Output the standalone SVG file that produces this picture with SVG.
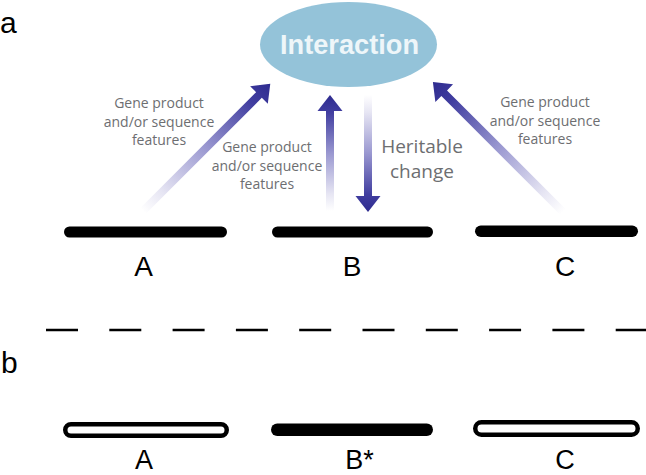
<svg xmlns="http://www.w3.org/2000/svg" width="646" height="475" viewBox="0 0 646 475">
  <defs>
    <linearGradient id="fade" x1="0" y1="0" x2="1" y2="0">
      <stop offset="0" stop-color="#ffffff"/>
      <stop offset="0.15" stop-color="#e6e5f3"/>
      <stop offset="0.5" stop-color="#9997d0"/>
      <stop offset="0.85" stop-color="#413ea0"/>
      <stop offset="1" stop-color="#2e2b8f"/>
    </linearGradient>
  </defs>
  <style>
    .panel { font-family: "Liberation Sans", Arial, sans-serif; font-size: 30px; fill: #000; }
    .gene { font-family: "Liberation Sans", Arial, sans-serif; font-size: 28px; fill: #000; text-anchor: middle; }
    .gene2 { font-family: "Liberation Sans", Arial, sans-serif; font-size: 27px; fill: #000; text-anchor: middle; }
    .note { font-family: "Open Sans", "Noto Sans", sans-serif; font-size: 14px; fill: #6d6e71; text-anchor: middle; }
    .herit { font-family: "Open Sans", "Noto Sans", sans-serif; font-size: 19px; fill: #6d6e71; text-anchor: middle; }
    .solid { fill: #000; }
    .hollow { fill: #fff; stroke: #000; stroke-width: 4.5; }
    .arrow { fill: url(#fade); }
  </style>
  <rect width="646" height="475" fill="#fff"/>

  <text class="panel" x="0" y="33">a</text>
  <text class="panel" x="1" y="373">b</text>

  <g id="interaction">
    <ellipse cx="348.5" cy="44.5" rx="88.5" ry="42.5" fill="#94c3d9"/>
    <text x="349.5" y="53.5" font-family="'Liberation Sans', Arial, sans-serif" font-weight="bold" font-size="28" fill="#eef6f9" text-anchor="middle" textLength="139" lengthAdjust="spacingAndGlyphs">Interaction</text>
  </g>

  <g id="connectors">
    <path class="arrow" transform="translate(143,211) rotate(-45)" d="M0,-4 H164 V-12.5 L180,0 L164,12.5 V4 H0 Z"/>
    <path class="arrow" transform="translate(330,211) rotate(-90)" d="M0,-4 H100 V-12.5 L116,0 L100,12.5 V4 H0 Z"/>
    <path class="arrow" transform="translate(368,95) rotate(90)" d="M0,-4 H101 V-12.5 L117,0 L101,12.5 V4 H0 Z"/>
    <path class="arrow" transform="translate(563,212) rotate(-135)" d="M0,-4 H168 V-12.5 L184,0 L168,12.5 V4 H0 Z"/>
  </g>

  <g id="labels">
    <text class="note" x="159" y="108">Gene product</text>
    <text class="note" x="159" y="127">and/or sequence</text>
    <text class="note" x="159" y="145">features</text>
    <text class="note" x="267" y="152">Gene product</text>
    <text class="note" x="267" y="171">and/or sequence</text>
    <text class="note" x="267" y="189">features</text>
    <text class="note" x="545" y="107">Gene product</text>
    <text class="note" x="545" y="126">and/or sequence</text>
    <text class="note" x="545" y="144">features</text>
    <text class="herit" x="422" y="153">Heritable</text>
    <text class="herit" x="422" y="178">change</text>
  </g>

  <g id="geneA">
    <rect class="solid" x="64" y="226.5" width="163" height="11" rx="5.5"/>
    <text class="gene" x="143.5" y="276">A</text>
  </g>
  <g id="geneB">
    <rect class="solid" x="272" y="226.5" width="161" height="11" rx="5.5"/>
    <text class="gene" x="352" y="276">B</text>
  </g>
  <g id="geneC">
    <rect class="solid" x="475" y="225.5" width="163" height="11.5" rx="5.75"/>
    <text class="gene" x="565" y="276">C</text>
  </g>

  <g id="divider">
    <line x1="46" y1="330" x2="646" y2="330" stroke="#000" stroke-width="2.5" stroke-dasharray="32 31.3"/>
  </g>

  <g id="geneA2">
    <rect class="hollow" x="65.25" y="424.25" width="161.5" height="11.5" rx="5.75"/>
    <text class="gene2" x="144" y="469">A</text>
  </g>
  <g id="geneB2">
    <rect class="solid" x="271" y="423.5" width="162" height="12.5" rx="6.25"/>
    <text class="gene2" x="359.5" y="469">B*</text>
  </g>
  <g id="geneC2">
    <rect class="hollow" x="475.25" y="422.25" width="162.5" height="12.5" rx="6.25"/>
    <text class="gene2" x="565" y="469">C</text>
  </g>
</svg>
